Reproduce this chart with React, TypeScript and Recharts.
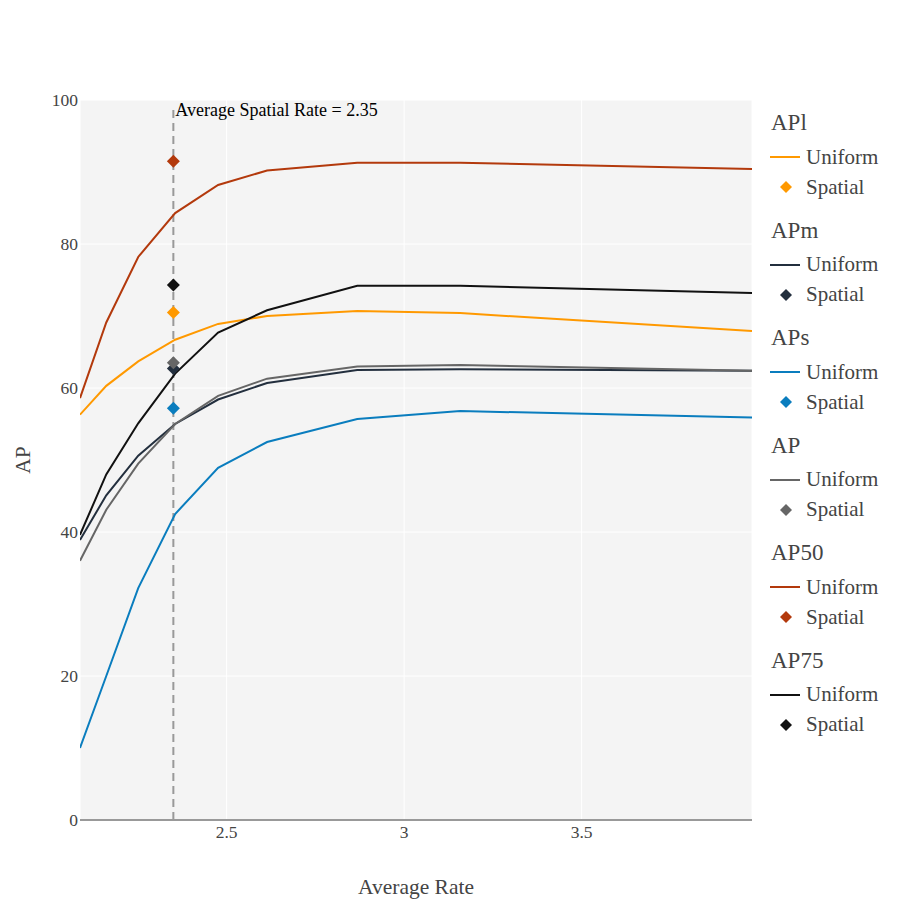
import React from "react";
import {
  ComposedChart,
  Line,
  Scatter,
  XAxis,
  YAxis,
  CartesianGrid,
  ReferenceLine,
} from "recharts";

// x positions of the uniform-rate runs
const rates = [2.087, 2.161, 2.251, 2.355, 2.476, 2.614, 2.868, 3.158, 3.98];

const apl = [56.3, 60.3, 63.7, 66.7, 68.9, 70.0, 70.7, 70.4, 67.9];
const apm = [38.9, 45.1, 50.6, 55.0, 58.4, 60.7, 62.5, 62.6, 62.4];
const aps = [10.0, 20.0, 32.2, 42.5, 48.9, 52.5, 55.7, 56.8, 55.9];
const ap = [36.0, 43.1, 49.5, 55.0, 58.9, 61.3, 63.0, 63.2, 62.4];
const ap50 = [58.6, 69.1, 78.2, 84.3, 88.2, 90.2, 91.3, 91.3, 90.4];
const ap75 = [39.6, 48.0, 55.1, 62.0, 67.7, 70.8, 74.2, 74.2, 73.2];

const spatialRate = 2.35;
const spatialNames = ["APl", "APm", "APs", "AP", "AP50", "AP75"];
const spatialValues = [70.5, 62.7, 57.2, 63.5, 91.5, 74.3];

const xTicks = [2.5, 3, 3.5];
const yTicks = [0, 20, 40, 60, 80, 100];

const colors = ["#FF9900", "#232F3E", "#0A7DBE", "#666666", "#B3390C", "#111111"];
const uniformSeries = [apl, apm, aps, ap, ap50, ap75];

const series = spatialNames.map((name, i) => ({
  name,
  color: colors[i],
  line: rates.map((x, j) => ({ x, y: uniformSeries[i][j] })),
  point: [{ x: spatialRate, y: spatialValues[i] }],
}));

const FONT = "'Liberation Serif', 'Times New Roman', serif";

const Diamond = (props: any) => {
  const { cx, cy, fill } = props;
  const r = 6.5;
  return (
    <polygon
      points={`${cx},${cy - r} ${cx + r},${cy} ${cx},${cy + r} ${cx - r},${cy}`}
      fill={fill}
    />
  );
};

const XTick = (props: any) => {
  const { x, y, payload } = props;
  return (
    <text x={x} y={y + 18} textAnchor="middle" fontFamily={FONT} fontSize={17.5} fill="#444">
      {payload.value}
    </text>
  );
};

const YTick = (props: any) => {
  const { x, y, payload } = props;
  return (
    <text x={x - 2} y={y + 6} textAnchor="end" fontFamily={FONT} fontSize={17.5} fill="#444">
      {payload.value}
    </text>
  );
};

const SpatialLabel = (props: any) => {
  const { viewBox } = props;
  return (
    <text
      x={viewBox.x + 2}
      y={viewBox.y + 7}
      fontFamily={FONT}
      fontSize={18}
      fill="#000"
    >
      Average Spatial Rate = {spatialRate}
    </text>
  );
};

const LegendBox = () => (
  <div
    style={{
      position: "absolute",
      left: 762,
      top: 98,
      fontFamily: FONT,
      color: "#444",
    }}
  >
    {series.map((s) => (
      <div key={s.name} style={{ height: 107.6 }}>
        <div style={{ height: 34, lineHeight: "34px", fontSize: 23, paddingLeft: 1 }}>
          {s.name}
        </div>
        <div style={{ height: 34, display: "flex", alignItems: "center" }}>
          <svg width={36} height={10}>
            <line x1={0} x2={30} y1={5} y2={5} stroke={s.color} strokeWidth={2} />
          </svg>
          <span style={{ fontSize: 21 }}>Uniform</span>
        </div>
        <div style={{ height: 26, display: "flex", alignItems: "center" }}>
          <svg width={36} height={14}>
            <polygon points="16,1 22,7 16,13 10,7" fill={s.color} />
          </svg>
          <span style={{ fontSize: 21 }}>Spatial</span>
        </div>
      </div>
    ))}
  </div>
);

export default function App() {
  return (
    <div style={{ position: "relative", width: 892, height: 892 }}>
      <ComposedChart
        width={892}
        height={892}
        margin={{ top: 92, right: 148, bottom: 30, left: 12 }}
      >
        <CartesianGrid fill="#F4F4F4" stroke="#FFFFFF" strokeWidth={1} />
        <XAxis
          dataKey="x"
          type="number"
          domain={[rates[0], rates[rates.length - 1]]}
          ticks={xTicks}
          allowDataOverflow
          height={50}
          tickLine={false}
          tickSize={0}
          tickMargin={0}
          axisLine={{ stroke: "#999", strokeWidth: 2 }}
          tick={<XTick />}
          label={{
            value: "Average Rate",
            position: "insideBottom",
            offset: -24,
            style: { fontFamily: FONT, fontSize: 21.5, fill: "#444" },
          }}
        />
        <YAxis
          dataKey="y"
          type="number"
          domain={[0, 100]}
          ticks={yTicks}
          width={60}
          tickLine={false}
          tickSize={0}
          tickMargin={0}
          axisLine={false}
          tick={<YTick />}
          label={{
            value: "AP",
            angle: -90,
            position: "insideLeft",
            offset: 2,
            style: { fontFamily: FONT, fontSize: 21.5, fill: "#444", textAnchor: "middle" },
          }}
        />
        <ReferenceLine
          segment={[
            { x: spatialRate, y: 0 },
            { x: spatialRate, y: 98.8 },
          ]}
          stroke="#999"
          strokeWidth={2}
          strokeDasharray="8 5"
          label={<SpatialLabel />}
        />
        {series.map((s) => (
          <Line
            key={s.name + "-u"}
            data={s.line}
            dataKey="y"
            type="linear"
            stroke={s.color}
            strokeWidth={2}
            dot={false}
            activeDot={false}
            isAnimationActive={false}
          />
        ))}
        {series.map((s) => (
          <Scatter
            key={s.name + "-s"}
            data={s.point}
            dataKey="y"
            fill={s.color}
            shape={<Diamond />}
            isAnimationActive={false}
          />
        ))}
      </ComposedChart>
      <LegendBox />
    </div>
  );
}
